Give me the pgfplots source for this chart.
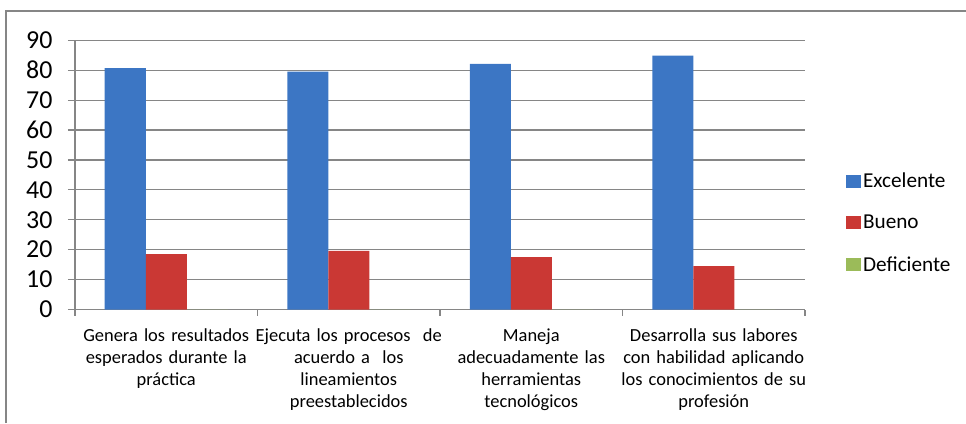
\documentclass[border=0pt]{standalone}
\usepackage{pgfplots}
\pgfplotsset{compat=1.18}
\usepackage{fontspec}
\setmainfont{Carlito}
\definecolor{gridgray}{RGB}{134,134,134}
\definecolor{blueM}{RGB}{60,118,196}
\definecolor{redM}{RGB}{202,56,52}
\definecolor{greenM}{RGB}{155,187,89}
\begin{document}
\begin{tikzpicture}[x=1bp,y=1bp]
\begin{axis}[
  at={(0,0)}, anchor=south west,
  scale only axis, width=730bp, height=269.2bp,
  xmin=-0.5, xmax=3.5, ymin=0, ymax=90,
  axis x line=bottom, axis y line=left,
  x axis line style={-, gridgray, line width=1.2bp},
  y axis line style={-, gridgray, line width=1.2bp},
  ytick={0,10,...,90},
  ymajorgrids,
  major grid style={gridgray, line width=1.2bp},
  tick align=outside,
  major tick length=7bp,
  minor tick length=6bp,
  xtick={0,1,2,3},
  major x tick style={draw=none},
  minor xtick={-0.5,0.5,1.5,2.5,3.5},
  minor x tick style={gridgray, line width=1.2bp},
  major y tick style={gridgray, line width=1.2bp},
  xticklabels={
    {Genera los resultados\\esperados durante la\\práctica},
    {Ejecuta los procesos \ de\\acuerdo a \ los\\lineamientos\\preestablecidos},
    {Maneja\\adecuadamente las\\herramientas\\tecnológicos},
    {Desarrolla sus labores\\con habilidad aplicando\\los conocimientos de su\\profesión}},
  x tick label style={font=\fontsize{18.5}{22}\selectfont, text width=190bp, align=center, anchor=north, yshift=-9bp},
  y tick label style={font=\fontsize{26}{30}\selectfont, xshift=-12bp},
  /pgf/number format/assume math mode=true,
  ybar=0pt, bar width=41bp,
  legend style={at={(axis description cs:1.056,0.515)}, anchor=north west,
    draw=none, fill=none, font=\fontsize{21.3}{25}\selectfont,
    row sep=22bp, inner sep=0pt},
  legend cell align=left,
]
\addplot[draw=none, fill=blueM,
  legend image code/.code={\fill[blueM] (0bp,-6.5bp) rectangle (15bp,6.5bp);}]
  coordinates {(0,80.7) (1,79.5) (2,82.1) (3,84.9)};
\addplot[draw=none, fill=redM,
  legend image code/.code={\fill[redM] (0bp,-6.5bp) rectangle (15bp,6.5bp);}]
  coordinates {(0,18.5) (1,19.6) (2,17.5) (3,14.5)};
\addplot[draw=none, fill=greenM,
  legend image code/.code={\fill[greenM] (0bp,-6.5bp) rectangle (15bp,6.5bp);}]
  coordinates {(0,0) (1,0) (2,0) (3,0)};
\legend{Excelente,Bueno,Deficiente}
\end{axis}
\draw[gridgray, line width=1.5bp] (-69,-113.5) -- (-69,298.5) -- (891,298.5);
\pgfresetboundingbox
\path[use as bounding box] (-75,-113.5) rectangle (891,309.5);
\end{tikzpicture}
\end{document}
